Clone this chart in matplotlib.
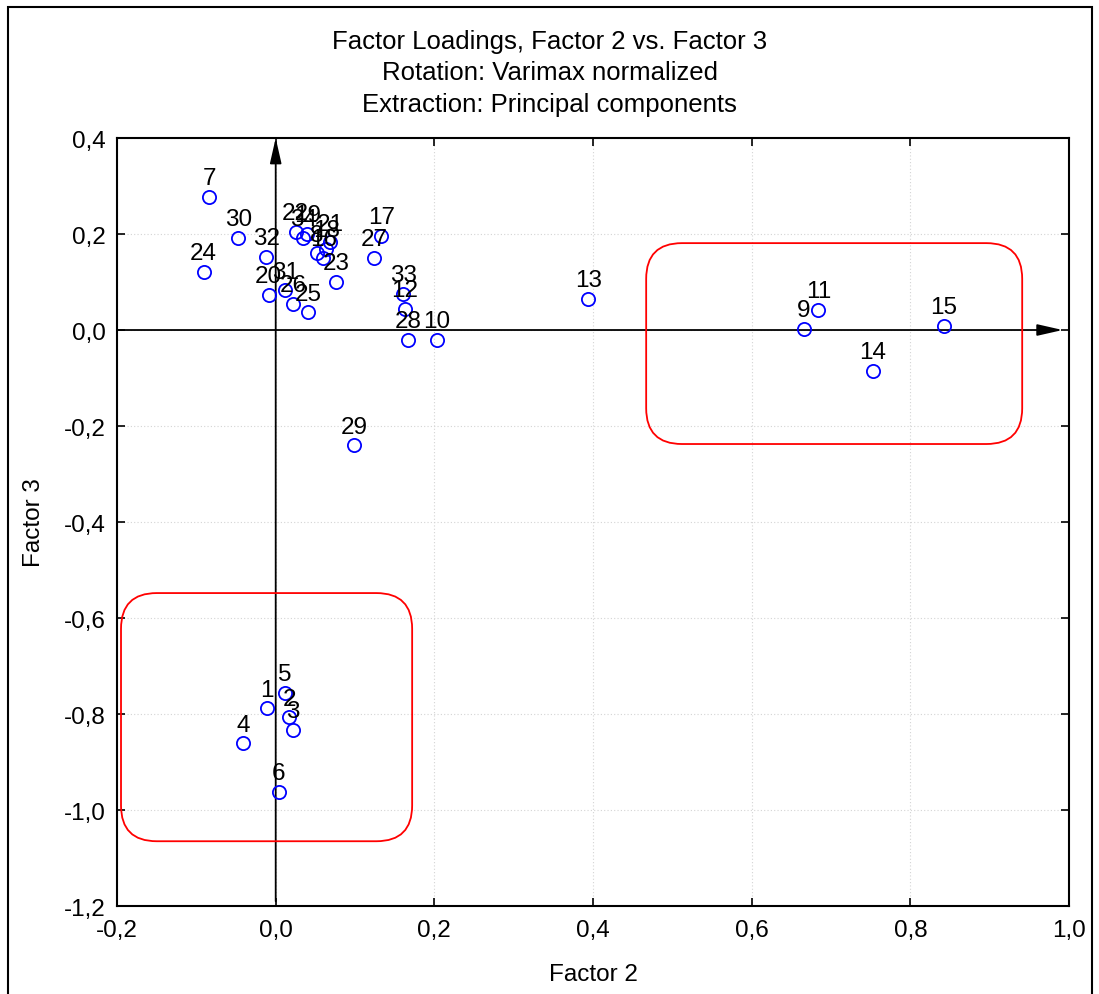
import numpy as np
import matplotlib
matplotlib.use("Agg")
import matplotlib.pyplot as plt
from matplotlib.patches import FancyBboxPatch, Rectangle
from matplotlib.ticker import FuncFormatter

plt.rcParams["font.family"] = ["Liberation Sans", "DejaVu Sans"]

# factor loadings (Factor 2, Factor 3) per variable
labels = ["1", "2", "3", "4", "5", "6", "7", "8", "9", "10", "11", "12",
          "13", "14", "15", "16", "17", "18", "19", "20", "21", "22", "23",
          "24", "25", "26", "27", "28", "29", "30", "31", "32", "33", "34"]
factor2 = [-0.011, 0.017, 0.022, -0.041, 0.012, 0.004, -0.084, 0.052, 0.666,
           0.203, 0.684, 0.163, 0.394, 0.753, 0.842, 0.060, 0.133, 0.064,
           0.040, -0.009, 0.069, 0.025, 0.076, -0.091, 0.041, 0.022, 0.124,
           0.167, 0.099, -0.047, 0.012, -0.012, 0.161, 0.035]
factor3 = [-0.788, -0.807, -0.833, -0.861, -0.756, -0.962, 0.277, 0.160, 0.002,
           -0.021, 0.042, 0.044, 0.065, -0.085, 0.009, 0.150, 0.196, 0.169,
           0.200, 0.073, 0.183, 0.204, 0.100, 0.121, 0.037, 0.054, 0.150,
           -0.021, -0.240, 0.192, 0.083, 0.152, 0.075, 0.192]

# highlighted groups: (x0, y0, x1, y1) in loading units
group_boxes = [(0.467, -0.2375, 0.941, 0.181),
               (-0.195, -1.065, 0.172, -0.548)]

xticks = [-0.2, 0.0, 0.2, 0.4, 0.6, 0.8, 1.0]
yticks = [-1.2, -1.0, -0.8, -0.6, -0.4, -0.2, 0.0, 0.2, 0.4]

FS = 17.5

fig = plt.figure(figsize=(10.99, 9.95), dpi=100)
ax = fig.add_axes([0.1065, 0.0884, 0.8662, 0.7719])
ax.set_xlim(-0.2, 1.0)
ax.set_ylim(-1.2, 0.4)

ax.grid(True, color="#d4d4d4", linestyle=(0, (1, 2)), linewidth=0.8)
ax.set_axisbelow(True)

# zero axes with arrows
ax.annotate("", xy=(0.992, 0), xytext=(-0.2, 0),
            arrowprops=dict(arrowstyle="-|>,head_length=1.1,head_width=0.25",
                            color="black", lw=1.3, mutation_scale=14,
                            shrinkA=0, shrinkB=0))
ax.annotate("", xy=(0, 0.4), xytext=(0, -1.19),
            arrowprops=dict(arrowstyle="-|>,head_length=1.1,head_width=0.25",
                            color="black", lw=1.3, mutation_scale=14,
                            shrinkA=0, shrinkB=0))

ax.plot(factor2, factor3, "o", mfc="none", mec="#0000ff", ms=9.5, mew=1.3,
        zorder=4)
for lab, x, y in zip(labels, factor2, factor3):
    ax.annotate(lab, (x, y), xytext=(0, 5.5), textcoords="offset points",
                ha="center", va="bottom", fontsize=FS, zorder=5)

# rounded rectangles (aspect ratio keeps corners circular on screen)
asp = 793.0 / 480.0
for x0, y0, x1, y1 in group_boxes:
    ax.add_patch(FancyBboxPatch((x0, y0), x1 - x0, y1 - y0,
                                boxstyle="round,pad=0,rounding_size=0.045",
                                mutation_aspect=asp, fill=False,
                                edgecolor="red", lw=1.3, zorder=3))

fmt = FuncFormatter(lambda v, p: f"{v:.1f}".replace(".", ","))
ax.set_xticks(xticks)
ax.set_yticks(yticks)
ax.xaxis.set_major_formatter(fmt)
ax.yaxis.set_major_formatter(fmt)
ax.tick_params(direction="in", length=6, width=1.2, labelsize=FS,
               top=True, right=True)
ax.tick_params(axis="x", pad=9)
ax.tick_params(axis="y", pad=8)
for s in ax.spines.values():
    s.set_linewidth(1.5)

ax.set_xlabel("Factor 2", fontsize=FS, labelpad=16)
ax.set_ylabel("Factor 3", fontsize=FS, labelpad=14)

fig.text(0.5, 1 - 42 / 995, "Factor Loadings, Factor 2 vs. Factor 3",
         ha="center", va="center", fontsize=18.5)
fig.text(0.5, 1 - 73 / 995, "Rotation: Varimax normalized",
         ha="center", va="center", fontsize=18.5)
fig.text(0.5, 1 - 105 / 995, "Extraction: Principal components",
         ha="center", va="center", fontsize=18.5)

fig.add_artist(Rectangle((8 / 1099, -0.01), 1084 / 1099, 1 - 8 / 995 + 0.01,
                         transform=fig.transFigure, fill=False,
                         edgecolor="black", lw=1.5))

fig.savefig("out.png", dpi=100)
